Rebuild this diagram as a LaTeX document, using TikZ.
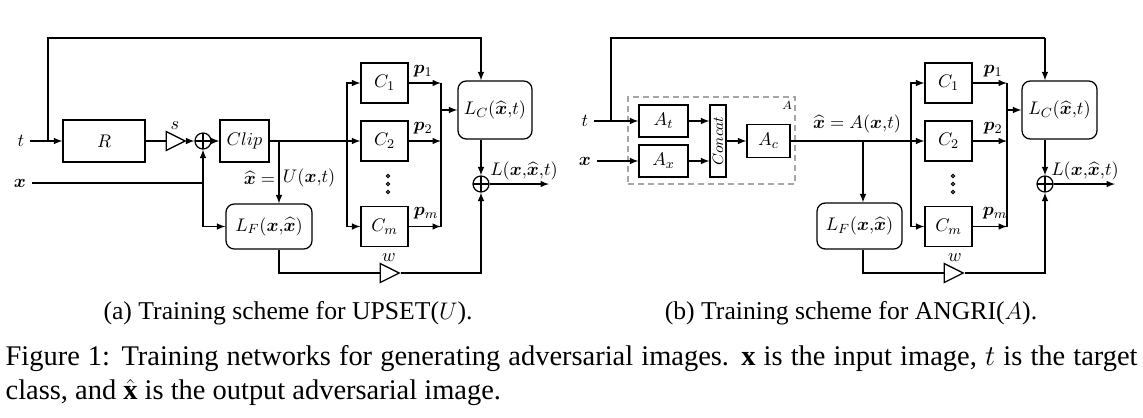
\documentclass[tikz,border=0pt]{standalone}
\usepackage{amsmath,bm}
\usepackage{fontspec}
\setmainfont{Liberation Serif}
\usetikzlibrary{shapes.geometric}
\tikzset{
  blk/.style 2 args={draw, rectangle, inner sep=0pt, minimum width=#1, minimum height=#2},
  rblk/.style 2 args={blk={#1}{#2}, rounded corners=5pt},
  sumnode/.style={draw, circle, inner sep=0pt, minimum size=9.6pt,
    path picture={\draw (path picture bounding box.north) -- (path picture bounding box.south)
      (path picture bounding box.west) -- (path picture bounding box.east);}},
  gain/.style={draw, isosceles triangle, isosceles triangle stretches, inner sep=0pt,
    minimum width=11.4pt, minimum height=11.4pt},
  tiny/.style={font=\fontsize{7.5}{9}\selectfont},
  lbl/.style={inner sep=1pt}
}
\begin{document}
\begin{tikzpicture}[x=0.6pt, y=-0.6pt, >=latex, line width=0.75pt,
    every node/.style={font=\fontsize{11}{13}\selectfont}]
  \useasboundingbox (0,0) rectangle (1143,417);
  % (a) UPSET
  \node (t_a) at (21,141) {$t$};
  \node (x_a) at (20,183) {$\bm{x}$};
  \coordinate (t_a0) at (48,141);
  \coordinate (top_a) at (48,38);
  \coordinate (topr_a) at (481,38);
  \node[blk={49.2pt}{25.2pt}] (R_a) at (104,141) {$R$};
  \node[gain] (s_a) at (172,141) {};
  \node[lbl] (s_al) at (175,126) {$s$};
  \node[sumnode] (P_a) at (203,141) {};
  \node[blk={29.4pt}{25.2pt}] (clip_a) at (244.5,141) {$Clip$};
  \coordinate (x_a0) at (203,183);
  \coordinate (b_a) at (279,141);
  \node[inner sep=0.5pt, anchor=east] (xh_a) at (276.5,178) {$\widehat{\bm{x}}=$};
  \node[inner sep=0.5pt, anchor=west] (U_a) at (281.5,178) {$U(\bm{x}{,}t)$};
  \node[rblk={51.6pt}{27pt}] (LF_a) at (269,226.5) {$L_F(\bm{x}{,}\widehat{\bm{x}})$};
  \coordinate (f_a) at (347,141);
  \node[blk={28.2pt}{24pt}] (C1_a) at (384.5,83) {$C_1$};
  \node[blk={28.2pt}{24pt}] (C2_a) at (384.5,141) {$C_2$};
  \node[blk={28.2pt}{24pt}] (Cm_a) at (384.5,226.5) {$C_m$};
  \node[lbl] (p1_a) at (423,71) {$\bm{p}_1$};
  \node[lbl] (p2_a) at (423,128) {$\bm{p}_2$};
  \node[lbl] (pm_a) at (426,213) {$\bm{p}_m$};
  \coordinate (g_a) at (441,110);
  \node[rblk={44.4pt}{34.8pt}] (LC_a) at (495,110) {$L_C(\widehat{\bm{x}}{,}t)$};
  \node[sumnode] (Q_a) at (481,184) {};
  \coordinate (o_a) at (549,184);
  \node[lbl] (L_a) at (524,171) {$L(\bm{x}{,}\widehat{\bm{x}}{,}t)$};
  \node[gain] (w_a) at (386,273) {};
  \node[lbl] (w_al) at (389,258) {$w$};
  \foreach \yy in {176,184,192} \draw[line width=0.6pt] (388,\yy) circle (1pt);
  \path (t_a) edge[->] (R_a);
  \draw[->] (t_a0) -- (top_a) -- (topr_a) -- (topr_a |- LC_a.north);
  \path (R_a) edge (s_a);
  \path (s_a) edge[->] (P_a);
  \path (P_a) edge[->] (clip_a);
  \draw (x_a) -- (x_a0);
  \draw[->] (x_a0) -- (P_a);
  \draw[->] (x_a0) |- (LF_a);
  \draw[->] (clip_a) -- (C2_a);
  \draw[->] (b_a) -- (b_a |- LF_a.north);
  \draw[<->] (C1_a) -- (f_a |- C1_a) -- (f_a |- Cm_a) -- (Cm_a);
  \draw[->] (C1_a) -- (g_a |- C1_a);
  \draw[->] (C2_a) -- (g_a |- C2_a);
  \draw[->] (Cm_a) -- (g_a |- Cm_a);
  \draw (g_a |- C1_a) -- (g_a |- Cm_a);
  \draw[->] (g_a) -- (LC_a);
  \draw[->] (LC_a.south -| Q_a) -- (Q_a);
  \draw[->] (Q_a) -- (o_a);
  \draw (b_a |- LF_a.south) -- (b_a |- w_a) -- (w_a);
  \draw[->] (w_a) -| (Q_a);
  % (b) ANGRI
  \node (t_b) at (585,121) {$t$};
  \node (x_b) at (585,161) {$\bm{x}$};
  \coordinate (t_b0) at (611,121);
  \coordinate (top_b) at (611,38);
  \coordinate (topr_b) at (1045,38);
  \node[draw=gray!70, dash pattern=on 3.5pt off 2.5pt, minimum width=100.2pt, minimum height=52.2pt, inner sep=0pt] (A_b) at (711.5,140.5) {};
  \node[tiny, lbl] (Al_b) at (787,106) {$A$};
  \node[blk={29.4pt}{19.2pt}] (At_b) at (663.5,121) {$A_t$};
  \node[blk={29.4pt}{19.2pt}] (Ax_b) at (663.5,161) {$A_x$};
  \node[blk={9.6pt}{43.2pt}, font=\fontsize{9.5}{10}\selectfont] (Cc_b) at (718,141) {\rotatebox{90}{$Concat$}};
  \node[blk={25.8pt}{19.8pt}] (Ac_b) at (768.5,141) {$A_c$};
  \coordinate (b_b) at (863,141);
  \node[lbl] (xh_b) at (857,124) {$\widehat{\bm{x}}=A(\bm{x}{,}t)$};
  \node[rblk={51pt}{27.6pt}] (LF_b) at (859.5,226) {$L_F(\bm{x}{,}\widehat{\bm{x}})$};
  \coordinate (f_b) at (911,141);
  \node[blk={28.2pt}{24pt}] (C1_b) at (948.5,83) {$C_1$};
  \node[blk={28.2pt}{24pt}] (C2_b) at (948.5,141) {$C_2$};
  \node[blk={28.2pt}{24pt}] (Cm_b) at (948.5,226.5) {$C_m$};
  \node[lbl] (p1_b) at (993,71) {$\bm{p}_1$};
  \node[lbl] (p2_b) at (993,128) {$\bm{p}_2$};
  \node[lbl] (pm_b) at (995,213) {$\bm{p}_m$};
  \coordinate (g_b) at (1007,110);
  \node[rblk={45pt}{34.8pt}] (LC_b) at (1059.5,110) {$L_C(\widehat{\bm{x}}{,}t)$};
  \node[sumnode] (Q_b) at (1045,184) {};
  \coordinate (o_b) at (1115,184);
  \node[lbl] (L_b) at (1085,171) {$L(\bm{x}{,}\widehat{\bm{x}}{,}t)$};
  \node[gain] (w_b) at (950,273) {};
  \node[lbl] (w_bl) at (955,258) {$w$};
  \foreach \yy in {176,184,192} \draw[line width=0.6pt] (953,\yy) circle (1pt);
  \path (t_b) edge[->] (At_b);
  \path (x_b) edge[->] (Ax_b);
  \draw (t_b0) -- (top_b) -- (topr_b);
  \draw[->] (topr_b) -- (topr_b |- LC_b.north);
  \draw[->] (At_b) -- (At_b -| Cc_b.west);
  \draw[->] (Ax_b) -- (Ax_b -| Cc_b.west);
  \draw[->] (Cc_b) -- (Ac_b);
  \draw[->] (Ac_b) -- (C2_b);
  \draw[->] (b_b) -- (b_b |- LF_b.north);
  \draw[<->] (C1_b) -- (f_b |- C1_b) -- (f_b |- Cm_b) -- (Cm_b);
  \draw[->] (C1_b) -- (g_b |- C1_b);
  \draw[->] (C2_b) -- (g_b |- C2_b);
  \draw[->] (Cm_b) -- (g_b |- Cm_b);
  \draw (g_b |- C1_b) -- (g_b |- Cm_b);
  \draw[->] (g_b) -- (LC_b);
  \draw[->] (LC_b.south -| Q_b) -- (Q_b);
  \draw[->] (Q_b) -- (o_b);
  \draw (b_b |- LF_b.south) -- (b_b |- w_b) -- (w_b);
  \draw[->] (w_b) -| (Q_b);
  % captions
  \node[font=\fontsize{15.4}{18.5}\selectfont] (cap_a) at (288,313) {(a) Training scheme for UPSET($U$).};
  \node[font=\fontsize{15.4}{18.5}\selectfont] (cap_b) at (851,313) {(b) Training scheme for ANGRI($A$).};
  \node[anchor=north west, text width=679.2pt, align=justify, inner sep=0pt,
    font=\fontsize{17.07}{20.5}\selectfont] (fig) at (5,345)
    {Figure 1: Training networks for generating adversarial images. $\mathbf{x}$ is the input image, $t$ is the target\linebreak class, and $\hat{\mathbf{x}}$ is the output adversarial image.};
\end{tikzpicture}
\end{document}
